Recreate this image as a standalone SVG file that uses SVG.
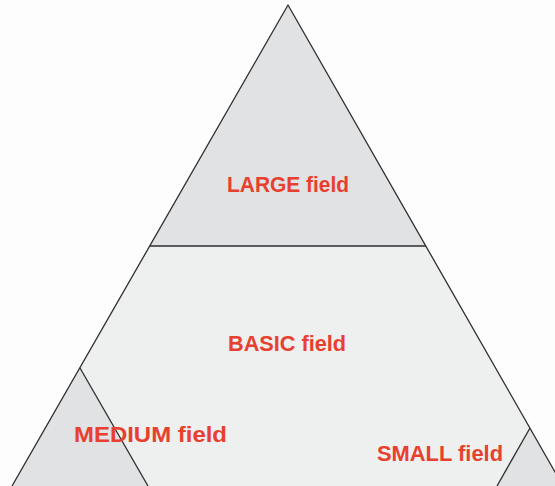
<svg xmlns="http://www.w3.org/2000/svg" width="555" height="486" viewBox="0 0 555 486">
<style>
.edge{stroke:#2e2e2e;stroke-width:1.3;fill:none;stroke-linejoin:round}
.dark{fill:#e1e2e3}
.light{fill:#eeefef}
.lbl{font-family:"Liberation Sans",Arial,sans-serif;font-weight:bold;font-size:22.5px;fill:#e8402e;text-anchor:middle}
</style>
<rect width="555" height="486" fill="#fdfdfd"/>
<g id="basic">
<polygon class="light" points="150,246 426,246 563,486 12,486"/>
<text class="lbl" x="287" y="351" textLength="118" lengthAdjust="spacingAndGlyphs">BASIC field</text>
</g>
<g id="large">
<polygon class="dark" points="288,5 150,246 426,246"/>
<text class="lbl" x="288" y="192" textLength="122" lengthAdjust="spacingAndGlyphs">LARGE field</text>
</g>
<g id="medium">
<polygon class="dark" points="80,368 12,486 148,486"/>
</g>
<g id="small">
<polygon class="dark" points="530,428 497,486 563,486"/>
</g>
<g id="connectors">
<polyline class="edge" points="12,486 288,5 563,486"/>
<line class="edge" x1="150" y1="246" x2="426" y2="246"/>
<line class="edge" x1="80" y1="368" x2="148" y2="486"/>
<line class="edge" x1="530" y1="428" x2="497" y2="486"/>
</g>
<g id="labels">
<text class="lbl" x="150.5" y="442" textLength="153" lengthAdjust="spacingAndGlyphs">MEDIUM field</text>
<text class="lbl" x="440" y="461" textLength="126" lengthAdjust="spacingAndGlyphs">SMALL field</text>
</g>
</svg>
